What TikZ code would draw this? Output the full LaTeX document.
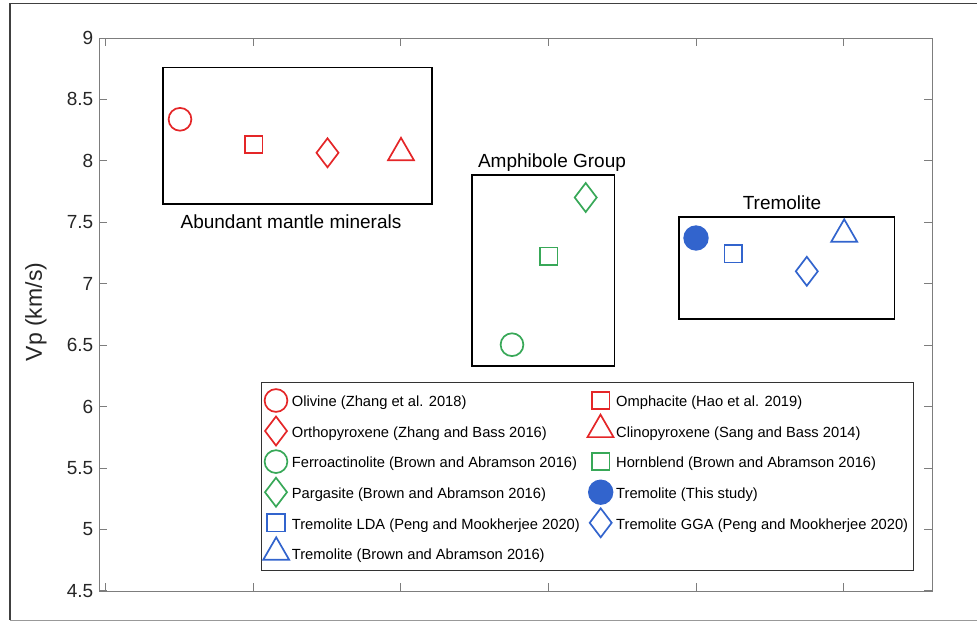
\documentclass[tikz,border=0pt]{standalone}
\usepackage{fontspec}
\setmainfont{Liberation Sans}
\usetikzlibrary{shapes.geometric}
\definecolor{mred}{RGB}{228,38,40}
\definecolor{mgreen}{RGB}{56,168,88}
\definecolor{mblue}{RGB}{50,100,205}
\definecolor{axgray}{RGB}{125,125,125}
\definecolor{ticktxt}{RGB}{38,38,38}
\begin{document}
\begin{tikzpicture}[x=1pt,y=-1pt,
 mk/.style={draw=#1, line width=1.7pt, inner sep=0pt, outer sep=0pt},
 mcirc/.style={mk=#1, circle, minimum size=22.8pt},
 msq/.style={mk=#1, regular polygon, regular polygon sides=4, minimum size=24.6pt},
 mdia/.style={mk=#1, diamond, minimum width=22pt, minimum height=29pt},
 mtri/.style={mk=#1, regular polygon, regular polygon sides=3, minimum size=30pt},
 mfill/.style={circle, fill=#1, inner sep=0pt, minimum size=25.4pt},
 grpbox/.style={draw=black, line width=1.6pt},
 grplabel/.style={font=\fontsize{19}{22}\selectfont, text=black, anchor=base, inner sep=0pt},
 legtxt/.style={font=\fontsize{14.7}{17}\selectfont, text=black, anchor=base west, inner sep=0pt},
 ticklbl/.style={font=\fontsize{19}{22}\selectfont, text=ticktxt, anchor=east, inner sep=0pt},
 axline/.style={draw=axgray, line width=1pt},
]
\useasboundingbox (0,0) rectangle (977,621);
% outer frame
\draw[line width=1.3pt, black!75] (977,3.5) -- (10,3.5) -- (10,620.3);
\draw[line width=1.3pt, black!40] (10,620.3) -- (977,620.3);
% axes
\draw[axline] (99,38) -- (932,38) -- (932,591) -- (99,591) -- cycle;
\foreach \i in {0,...,9} {
  \draw[axline] (99,{38+61.44*\i}) -- (107,{38+61.44*\i});
  \draw[axline] (932,{38+61.44*\i}) -- (924,{38+61.44*\i});
}
\foreach \i in {0,...,5} {
  \draw[axline] ({105.7+147.6*\i},591) -- ({105.7+147.6*\i},583);
  \draw[axline] ({105.7+147.6*\i},38) -- ({105.7+147.6*\i},46);
}
\foreach \v [count=\i from 0] in {9,8.5,8,7.5,7,6.5,6,5.5,5,4.5}
  \node[ticklbl] (yt\i) at (93.5,{38+61.44*\i}) {\v};
\node[rotate=90, font=\fontsize{23}{26}\selectfont, text=ticktxt] (ylab) at (36,312) {Vp (km/s)};
% group boxes
\draw[grpbox] (162.7,67.3) -- (432,67.3) -- (432,204) -- (162.7,204) -- cycle;
\node[grplabel] (lab1) at (291,228.3) {Abundant mantle minerals};
\draw[grpbox] (471.7,175) -- (614.3,175) -- (614.3,366) -- (471.7,366) -- cycle;
\node[grplabel] (lab2) at (552,167.3) {Amphibole Group};
\draw[grpbox] (679,216.7) -- (894.3,216.7) -- (894.3,319) -- (679,319) -- cycle;
\node[grplabel] (lab3) at (782,209.3) {Tremolite};
% data markers
\node[mcirc=mred] (r1) at (180,119.3) {};
\node[msq=mred] (r2) at (253.8,144.5) {};
\node[mdia=mred] (r3) at (327.5,152.8) {};
\node[mtri=mred] (r4) at (401,152.8) {};
\node[mcirc=mgreen] (g1) at (512,344.7) {};
\node[msq=mgreen] (g2) at (548.7,256.3) {};
\node[mdia=mgreen] (g3) at (585.7,197.5) {};
\node[mfill=mblue] (b1) at (696,238) {};
\node[msq=mblue] (b2) at (733.2,253.7) {};
\node[mdia=mblue] (b3) at (806.8,271.3) {};
\node[mtri=mblue] (b4) at (844.2,234.3) {};
% legend
\draw[draw=black!80, line width=1pt] (261.7,382) -- (913,382) -- (913,570) -- (261.7,570) -- cycle;
\node[mcirc=mred] (l1) at (276,400.5) {};
\node[legtxt] (t1) at (291.7,406.7) {Olivine (Zhang et al. 2018)};
\node[mdia=mred] (l2) at (276,431) {};
\node[legtxt] (t2) at (291.7,437.2) {Orthopyroxene (Zhang and Bass 2016)};
\node[mcirc=mgreen] (l3) at (276,461.6) {};
\node[legtxt] (t3) at (291.7,467.8) {Ferroactinolite (Brown and Abramson 2016)};
\node[mdia=mgreen] (l4) at (276,492.2) {};
\node[legtxt] (t4) at (291.7,498.4) {Pargasite (Brown and Abramson 2016)};
\node[msq=mblue] (l5) at (276,522.8) {};
\node[legtxt] (t5) at (291.7,529) {Tremolite LDA (Peng and Mookherjee 2020)};
\node[mtri=mblue] (l6) at (276.2,552.3) {};
\node[legtxt] (t6) at (291.7,559.6) {Tremolite (Brown and Abramson 2016)};
\node[msq=mred] (l7) at (600.7,400.5) {};
\node[legtxt] (t7) at (616,406.7) {Omphacite (Hao et al. 2019)};
\node[mtri=mred] (l8) at (600.5,429.6) {};
\node[legtxt] (t8) at (616,437.2) {Clinopyroxene (Sang and Bass 2014)};
\node[msq=mgreen] (l9) at (600.7,461.6) {};
\node[legtxt] (t9) at (616,467.8) {Hornblend (Brown and Abramson 2016)};
\node[mfill=mblue] (l10) at (600.7,492.2) {};
\node[legtxt] (t10) at (616,498.4) {Tremolite (This study)};
\node[mdia=mblue] (l11) at (600.7,522.8) {};
\node[legtxt] (t11) at (616,529) {Tremolite GGA (Peng and Mookherjee 2020)};
\end{tikzpicture}
\end{document}
